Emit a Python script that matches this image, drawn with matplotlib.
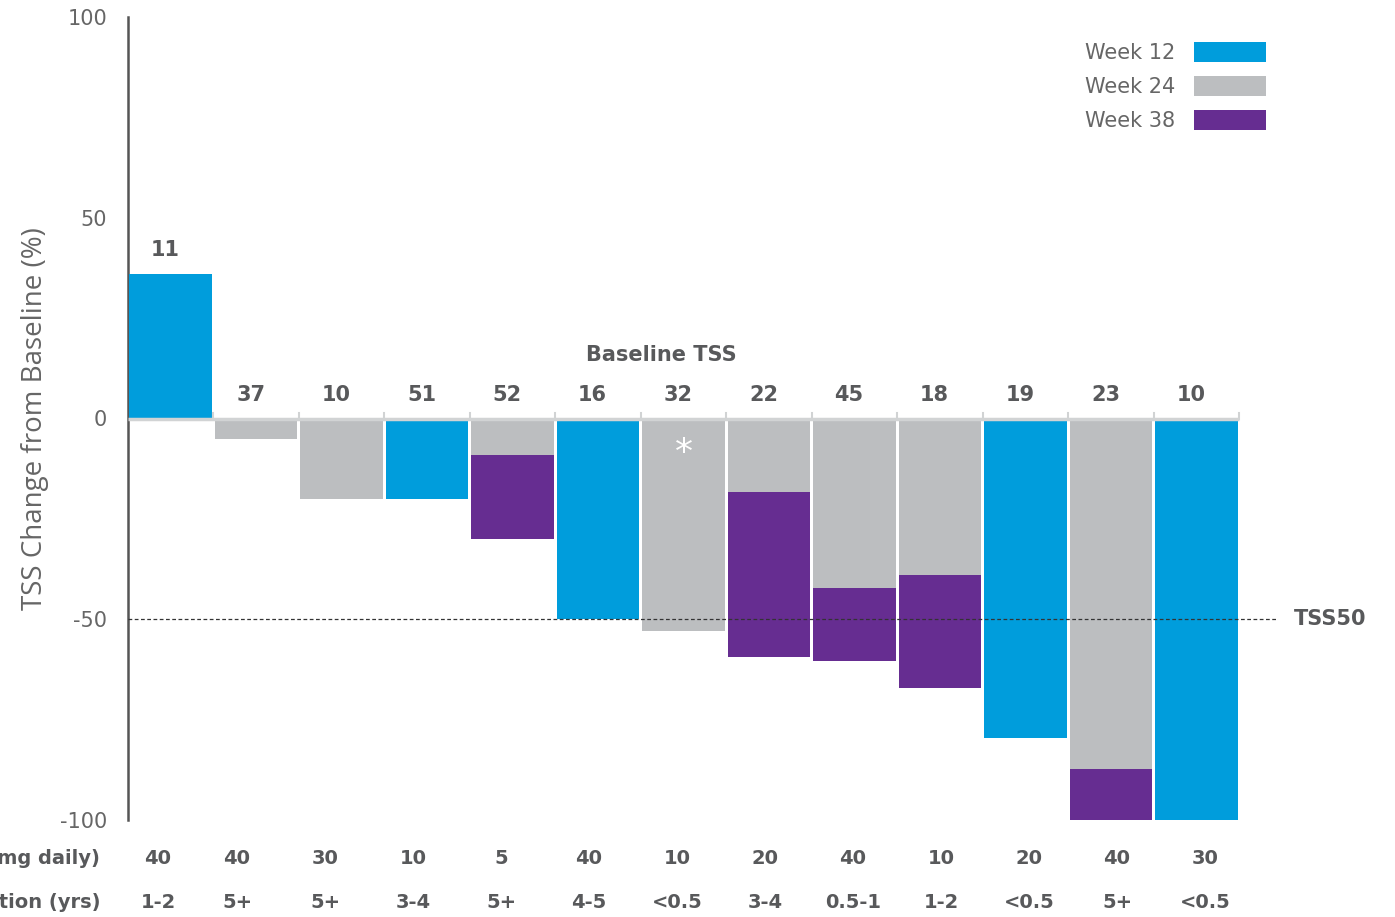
import numpy as np
import matplotlib.pyplot as plt

# patients, ordered as in the waterfall
baseline_tss = [11, 37, 10, 51, 52, 16, 32, 22, 45, 18, 19, 23, 10]
dose = ['40', '40', '30', '10', '5', '40', '10', '20', '40', '10', '20', '40', '30']
duration = ['1-2', '5+', '5+', '3-4', '5+', '4-5', '<0.5', '3-4', '0.5-1', '1-2', '<0.5', '5+', '<0.5']

# TSS change from baseline (%) at each visit, nan = not shown
week12 = [36, np.nan, np.nan, -20, np.nan, -50, np.nan, np.nan, np.nan, np.nan, -79.5, np.nan, -100]
week24 = [np.nan, -5, -20, np.nan, -9.2, np.nan, -53, -18.2, -42.1, -39.1, np.nan, -87.2, np.nan]
week38 = [np.nan, np.nan, np.nan, np.nan, -30, np.nan, np.nan, -59.3, -60.3, -67.2, np.nan, -100, np.nan]
star_patient = 6  # the '*' in the 32 bar

c12, c24, c38 = '#009DDC', '#BCBEC0', '#662D91'
dark = '#58595B'
plt.rcParams['font.family'] = ['DejaVu Sans']

fig = plt.figure(figsize=(13.95, 9.17), dpi=100)
ax = fig.add_axes([128/1395, 97/917, (1276-128)/1395, 803/917])

x = np.arange(len(baseline_tss))
w = 0.965
# deepest first, later visits drawn over them
ax.bar(x, week38, width=w, color=c38, label='Week 38', zorder=2)
ax.bar(x, week24, width=w, color=c24, label='Week 24', zorder=3)
ax.bar(x, week12, width=w, color=c12, label='Week 12', zorder=4)

ax.set_xlim(-0.5, 12.93)
ax.set_ylim(-100, 100)

# zero line with small ticks between patients
ax.plot([-0.5, 12.5], [0, 0], color='#D1D3D4', lw=2.5, zorder=5, solid_capstyle='butt')
for b in np.arange(0.5, 13, 1):
    ax.plot([b, b], [0, 1.3], color='#D1D3D4', lw=1.5, zorder=5)

# TSS50 threshold
ax.axhline(-50, color='#333333', lw=0.9, ls=(0, (3, 2)), zorder=6)
ax.text(13.14, -50, 'TSS50', ha='left', va='center', fontsize=15,
        fontweight='bold', color=dark, clip_on=False)

# baseline TSS labels
for i, v in enumerate(baseline_tss):
    top = np.nanmax([week12[i], week24[i], week38[i], 0])
    ax.annotate(str(v), (i, top), xytext=(-4, 17), textcoords='offset points',
                ha='center', va='center', fontsize=15, fontweight='bold', color=dark)
ax.text(5.74, 15.8, 'Baseline TSS', ha='center', va='center', fontsize=15,
        fontweight='bold', color=dark)
ax.text(star_patient, -8.5, '*', ha='center', va='center', fontsize=26, color='white', zorder=7)

# dose / duration rows under the axis (their own column spacing)
for i in x:
    xpx = 158 if i == 0 else 237 + 88 * (i - 1)
    fig.text(xpx / 1395, 1 - 858/917, dose[i], ha='center', va='center', fontsize=14,
             fontweight='bold', color=dark)
    fig.text(xpx / 1395, 1 - 902/917, duration[i], ha='center', va='center', fontsize=14,
             fontweight='bold', color=dark)
fig.text(100/1395, 1 - 858/917, 'Dose (mg daily)', ha='right', va='center',
         fontsize=14, fontweight='bold', color=dark)
fig.text(100/1395, 1 - 902/917, 'Duration (yrs)', ha='right', va='center',
         fontsize=14, fontweight='bold', color=dark)

# axes styling
for s in ['top', 'right', 'bottom']:
    ax.spines[s].set_visible(False)
ax.spines['left'].set_color('#555555')
ax.spines['left'].set_linewidth(1.8)
ax.set_xticks([])
ax.set_yticks([-100, -50, 0, 50, 100])
ax.set_yticklabels(['-100', '-50', '0', '50', '100'])
ax.tick_params(axis='y', length=0, pad=15, labelsize=15, labelcolor='#666666')
ax.set_ylabel('TSS Change from Baseline (%)', fontsize=20, color='#666666',
              family='Open Sans', labelpad=8)

h, l = ax.get_legend_handles_labels()
ax.legend(h[::-1], l[::-1], loc='upper right', bbox_to_anchor=(0.9985, 0.979),
          frameon=False, markerfirst=False, fontsize=15, labelcolor='#666666',
          handlelength=3.45, handleheight=1.1, labelspacing=0.62, handletextpad=0.9,
          borderaxespad=0)

fig.savefig('out.png', dpi=100)
